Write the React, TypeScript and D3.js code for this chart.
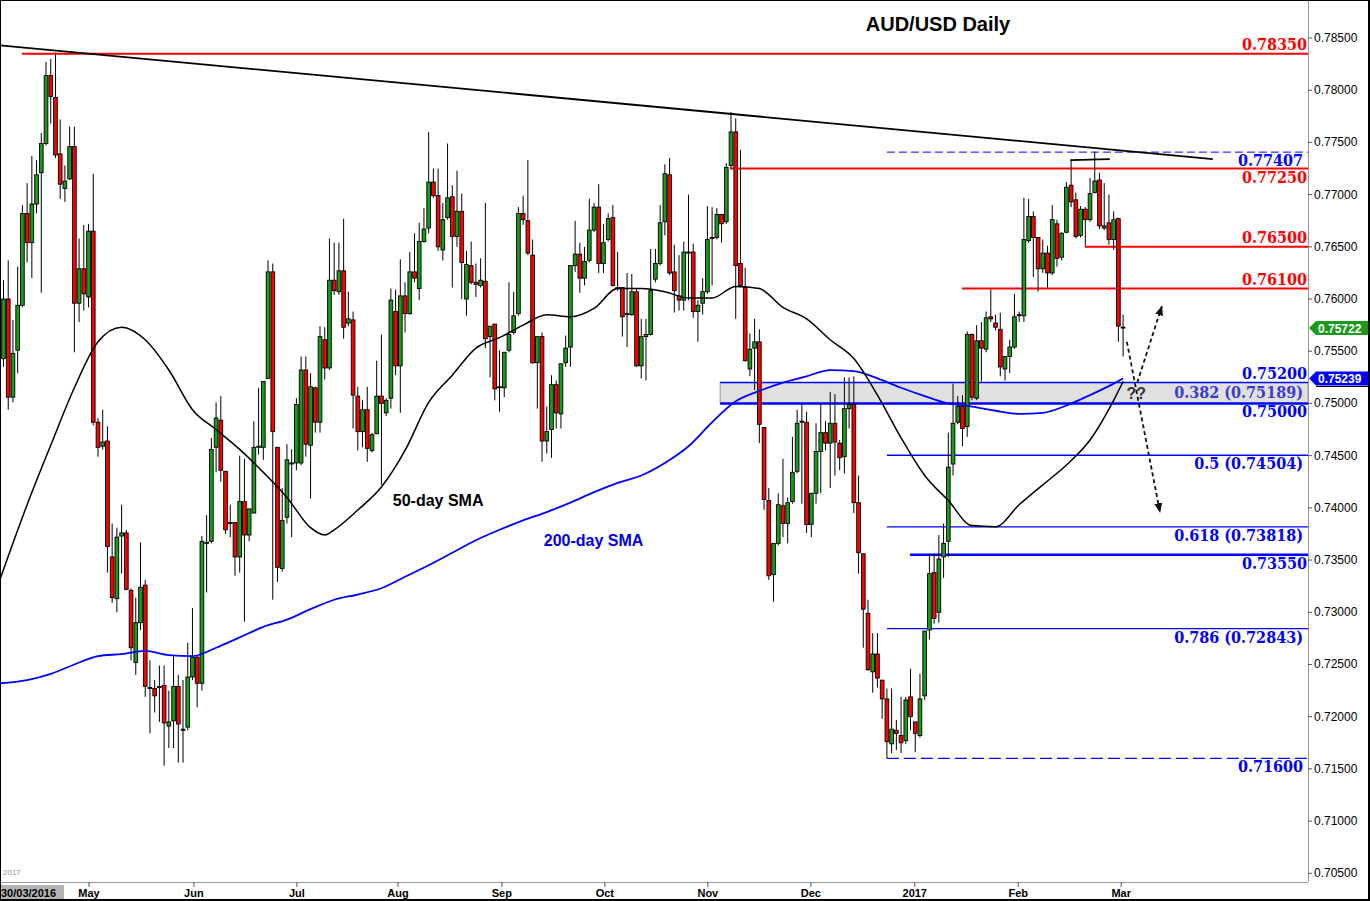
import React from "react";
import * as d3 from "d3";

// ---------- DATA (AUD/USD daily candles) ----------
const open = [
0.7543,0.7600,0.7506,0.7551,0.7594,0.7682,0.7654,0.7691,0.7721,0.7749,
0.7814,0.7793,0.7739,0.7706,0.7715,0.7746,0.7596,0.7629,0.7602,0.7665,
0.7482,0.7459,0.7464,0.7353,0.7313,0.7373,0.7376,0.7321,0.7252,0.7290,
0.7326,0.7228,0.7227,0.7228,0.7230,0.7191,0.7196,0.7229,0.7187,0.7190,
0.7238,0.7257,0.7232,0.7366,0.7368,0.7458,0.7484,0.7435,0.7386,0.7386,
0.7353,0.7406,0.7374,0.7395,0.7458,0.7458,0.7524,0.7626,0.7458,0.7342,
0.7391,0.7442,0.7443,0.7443,0.7532,0.7460,0.7515,0.7482,0.7561,0.7534,
0.7618,0.7607,0.7627,0.7577,0.7580,0.7507,0.7473,0.7494,0.7455,0.7471,
0.7507,0.7491,0.7505,0.7588,0.7536,0.7603,0.7586,0.7626,0.7610,0.7655,
0.7668,0.7712,0.7699,0.7647,0.7678,0.7698,0.7660,0.7684,0.7600,0.7632,
0.7616,0.7613,0.7617,0.7564,0.7576,0.7515,0.7515,0.7551,0.7568,0.7586,
0.7682,0.7675,0.7642,0.7539,0.7564,0.7464,0.7475,0.7518,0.7490,0.7539,
0.7554,0.7632,0.7643,0.7620,0.7637,0.7666,0.7688,0.7634,0.7657,0.7678,
0.7611,0.7611,0.7585,0.7585,0.7607,0.7536,0.7564,0.7566,0.7619,0.7634,
0.7674,0.7719,0.7626,0.7603,0.7599,0.7645,0.7645,0.7588,0.7596,0.7607,
0.7658,0.7659,0.7681,0.7674,0.7728,0.7760,0.7634,0.7611,0.7533,0.7553,
0.7559,0.7477,0.7407,0.7336,0.7366,0.7402,0.7385,0.7406,0.7435,0.7482,
0.7482,0.7384,0.7414,0.7454,0.7472,0.7462,0.7481,0.7462,0.7449,0.7495,
0.7499,0.7405,0.7356,0.7299,0.7243,0.7260,0.7235,0.7217,0.7174,0.7187,
0.7182,0.7177,0.7219,0.7195,0.7182,0.7220,0.7283,0.7338,0.7300,0.7353,
0.7368,0.7442,0.7482,0.7497,0.7478,0.7566,0.7505,0.7560,0.7552,0.7583,
0.7577,0.7571,0.7533,0.7545,0.7554,0.7584,0.7584,0.7656,0.7679,0.7659,
0.7629,0.7644,0.7625,0.7672,0.7640,0.7664,0.7709,0.7695,0.7661,0.7686,
0.7676,0.7702,0.7714,0.7668,0.7673,0.7657,0.7677,0.7573];

const high = [
0.7618,0.7637,0.7580,0.7631,0.7690,0.7711,0.7737,0.7733,0.7759,0.7827,
0.7830,0.7836,0.7772,0.7728,0.7765,0.7765,0.7658,0.7671,0.7672,0.7720,
0.7486,0.7494,0.7478,0.7385,0.7381,0.7403,0.7379,0.7323,0.7314,0.7367,
0.7331,0.7254,0.7235,0.7249,0.7249,0.7225,0.7258,0.7240,0.7235,0.7271,
0.7304,0.7259,0.7373,0.7393,0.7467,0.7501,0.7507,0.7435,0.7403,0.7386,
0.7450,0.7447,0.7399,0.7483,0.7515,0.7521,0.7637,0.7634,0.7458,0.7419,
0.7461,0.7456,0.7505,0.7545,0.7545,0.7529,0.7516,0.7574,0.7573,0.7658,
0.7654,0.7654,0.7677,0.7607,0.7588,0.7516,0.7503,0.7516,0.7472,0.7541,
0.7566,0.7505,0.7610,0.7609,0.7638,0.7616,0.7645,0.7663,0.7673,0.7687,
0.7760,0.7725,0.7725,0.7692,0.7749,0.7709,0.7723,0.7701,0.7646,0.7655,
0.7634,0.7639,0.7692,0.7574,0.7576,0.7551,0.7549,0.7616,0.7607,0.7688,
0.7699,0.7733,0.7657,0.7564,0.7568,0.7497,0.7527,0.7522,0.7538,0.7565,
0.7632,0.7675,0.7654,0.7650,0.7696,0.7692,0.7710,0.7672,0.7682,0.7690,
0.7645,0.7611,0.7625,0.7624,0.7610,0.7581,0.7581,0.7648,0.7648,0.7690,
0.7729,0.7735,0.7652,0.7642,0.7655,0.7700,0.7653,0.7599,0.7620,0.7689,
0.7688,0.7687,0.7681,0.7730,0.7779,0.7773,0.7743,0.7630,0.7567,0.7581,
0.7571,0.7477,0.7419,0.7366,0.7414,0.7447,0.7410,0.7468,0.7494,0.7499,
0.7492,0.7414,0.7481,0.7500,0.7483,0.7511,0.7509,0.7465,0.7525,0.7525,
0.7526,0.7431,0.7356,0.7312,0.7280,0.7280,0.7235,0.7227,0.7227,0.7197,
0.7219,0.7219,0.7246,0.7195,0.7241,0.7282,0.7356,0.7356,0.7374,0.7385,
0.7472,0.7519,0.7507,0.7508,0.7569,0.7567,0.7575,0.7578,0.7588,0.7609,
0.7585,0.7587,0.7545,0.7561,0.7605,0.7588,0.7697,0.7696,0.7684,0.7659,
0.7657,0.7651,0.7690,0.7676,0.7664,0.7712,0.7733,0.7702,0.7689,0.7688,
0.7716,0.7741,0.7721,0.7711,0.7700,0.7684,0.7678,0.7585];

const low = [
0.7535,0.7494,0.7501,0.7529,0.7592,0.7635,0.7620,0.7682,0.7606,0.7747,
0.7768,0.7735,0.7696,0.7693,0.7714,0.7549,0.7578,0.7589,0.7592,0.7479,
0.7449,0.7456,0.7338,0.7309,0.7300,0.7337,0.7321,0.7254,0.7240,0.7283,
0.7219,0.7184,0.7204,0.7195,0.7153,0.7170,0.7170,0.7156,0.7156,0.7187,
0.7235,0.7209,0.7225,0.7319,0.7366,0.7434,0.7425,0.7375,0.7372,0.7335,
0.7338,0.7291,0.7368,0.7395,0.7451,0.7446,0.7524,0.7312,0.7329,0.7339,
0.7385,0.7372,0.7436,0.7441,0.7449,0.7409,0.7472,0.7472,0.7523,0.7532,
0.7604,0.7604,0.7562,0.7574,0.7476,0.7455,0.7458,0.7444,0.7453,0.7471,
0.7422,0.7488,0.7495,0.7527,0.7491,0.7568,0.7585,0.7616,0.7599,0.7654,
0.7663,0.7697,0.7646,0.7637,0.7676,0.7611,0.7650,0.7600,0.7584,0.7614,
0.7602,0.7611,0.7553,0.7525,0.7503,0.7492,0.7506,0.7549,0.7566,0.7584,
0.7671,0.7642,0.7538,0.7495,0.7444,0.7452,0.7448,0.7476,0.7476,0.7535,
0.7535,0.7626,0.7606,0.7613,0.7635,0.7664,0.7625,0.7625,0.7655,0.7612,
0.7608,0.7564,0.7554,0.7584,0.7535,0.7524,0.7522,0.7565,0.7616,0.7632,
0.7661,0.7623,0.7587,0.7589,0.7589,0.7599,0.7582,0.7559,0.7585,0.7605,
0.7613,0.7657,0.7654,0.7672,0.7725,0.7581,0.7611,0.7540,0.7526,0.7513,
0.7462,0.7398,0.7331,0.7310,0.7364,0.7372,0.7366,0.7404,0.7433,0.7404,
0.7376,0.7372,0.7404,0.7414,0.7455,0.7419,0.7431,0.7436,0.7433,0.7476,
0.7395,0.7337,0.7266,0.7244,0.7223,0.7228,0.7198,0.7160,0.7165,0.7168,
0.7165,0.7174,0.7187,0.7166,0.7180,0.7216,0.7274,0.7289,0.7290,0.7333,
0.7353,0.7431,0.7480,0.7459,0.7468,0.7503,0.7503,0.7521,0.7549,0.7578,
0.7570,0.7526,0.7522,0.7529,0.7552,0.7578,0.7578,0.7654,0.7621,0.7607,
0.7625,0.7611,0.7623,0.7631,0.7637,0.7663,0.7688,0.7658,0.7659,0.7651,
0.7674,0.7701,0.7667,0.7666,0.7652,0.7647,0.7559,0.7545];

const close = [
0.7600,0.7506,0.7548,0.7594,0.7682,0.7654,0.7691,0.7719,0.7749,0.7814,
0.7794,0.7738,0.7710,0.7713,0.7746,0.7596,0.7629,0.7605,0.7665,0.7482,
0.7458,0.7463,0.7363,0.7314,0.7372,0.7376,0.7322,0.7266,0.7290,0.7324,
0.7229,0.7227,0.7220,0.7229,0.7194,0.7195,0.7229,0.7193,0.7188,0.7238,
0.7257,0.7232,0.7368,0.7367,0.7456,0.7486,0.7436,0.7379,0.7385,0.7353,
0.7406,0.7374,0.7399,0.7458,0.7459,0.7521,0.7626,0.7473,0.7343,0.7388,
0.7446,0.7443,0.7499,0.7532,0.7461,0.7516,0.7482,0.7564,0.7534,0.7618,
0.7608,0.7627,0.7573,0.7581,0.7508,0.7473,0.7494,0.7457,0.7470,0.7507,
0.7500,0.7503,0.7599,0.7536,0.7603,0.7586,0.7626,0.7620,0.7655,0.7667,
0.7712,0.7699,0.7650,0.7676,0.7697,0.7660,0.7684,0.7635,0.7633,0.7616,
0.7614,0.7618,0.7562,0.7574,0.7514,0.7516,0.7549,0.7566,0.7584,0.7682,
0.7676,0.7644,0.7539,0.7564,0.7464,0.7473,0.7518,0.7491,0.7538,0.7553,
0.7632,0.7643,0.7620,0.7636,0.7666,0.7688,0.7634,0.7654,0.7677,0.7613,
0.7610,0.7583,0.7586,0.7607,0.7536,0.7564,0.7566,0.7608,0.7634,0.7673,
0.7720,0.7625,0.7608,0.7599,0.7645,0.7644,0.7588,0.7594,0.7607,0.7657,
0.7659,0.7681,0.7672,0.7726,0.7760,0.7632,0.7613,0.7541,0.7552,0.7559,
0.7480,0.7408,0.7335,0.7366,0.7403,0.7385,0.7405,0.7434,0.7481,0.7483,
0.7384,0.7414,0.7454,0.7472,0.7462,0.7481,0.7463,0.7448,0.7495,0.7499,
0.7405,0.7357,0.7303,0.7245,0.7260,0.7237,0.7217,0.7176,0.7188,0.7184,
0.7175,0.7216,0.7200,0.7184,0.7217,0.7282,0.7337,0.7294,0.7351,0.7366,
0.7439,0.7481,0.7497,0.7476,0.7566,0.7506,0.7560,0.7553,0.7582,0.7581,
0.7573,0.7535,0.7545,0.7554,0.7583,0.7585,0.7657,0.7679,0.7659,0.7629,
0.7644,0.7625,0.7676,0.7639,0.7663,0.7707,0.7693,0.7660,0.7686,0.7676,
0.7701,0.7713,0.7670,0.7670,0.7657,0.7676,0.7574,0.75722];

// Moving averages (bar index -> value)
const sma50Idx = [-0.7,5,10,15,20,25,30,35,40,45,50,55,60,65,68,70,75,80,85,90,95,100,105,110,115,120,125,130,135,140,145,150,155,160,165,170,175,180,185,190,195,200,205,210,215,220,225,230,235,237];
const sma50Val = [0.7332,0.7403,0.7460,0.7515,0.7559,0.7573,0.7561,0.7532,0.7494,0.7475,0.7456,0.7434,0.7410,0.7381,0.7374,0.7379,0.7398,0.7420,0.7455,0.7501,0.7527,0.7553,0.7563,0.7575,0.7585,0.7583,0.7591,0.7610,0.7610,0.7607,0.7601,0.7601,0.7612,0.7610,0.7592,0.7581,0.7561,0.7543,0.7508,0.7467,0.7431,0.7407,0.7383,0.7382,0.7403,0.7422,0.7441,0.7465,0.7503,0.7521];
const sma200Idx = [-0.7,5,10,15,20,25,30,35,40,45,50,55,60,65,70,75,80,85,90,95,100,105,110,115,120,125,130,135,140,145,150,155,160,165,170,175,180,185,190,195,200,205,210,215,220,225,230,235,237];
const sma200Val = [0.7232,0.7235,0.7241,0.7250,0.7258,0.7260,0.7263,0.7259,0.7258,0.7266,0.7276,0.7286,0.7293,0.7303,0.7312,0.7317,0.7323,0.7334,0.7345,0.7357,0.7369,0.7379,0.7388,0.7396,0.7405,0.7415,0.7424,0.7431,0.7443,0.7459,0.7482,0.7502,0.7512,0.7520,0.7526,0.7532,0.7531,0.7524,0.7515,0.7507,0.7500,0.7497,0.7493,0.7490,0.7491,0.7498,0.7508,0.7519,0.75239];

// Axis ticks
const priceTicks = [0.785,0.78,0.775,0.77,0.765,0.76,0.755,0.75,0.745,0.74,0.735,0.73,0.725,0.72,0.715,0.71,0.705];
const monthLabels = ["May","Jun","Jul","Aug","Sep","Oct","Nov","Dec","2017","Feb","Mar"];
const monthTickIdx = [18.1,40.3,62.1,83.5,105.5,127.3,149.1,170.9,192.9,214.8,236.6];
const firstDateLabel = "30/03/2016";

// Horizontal levels (price, label, first bar index)
const levelPrice = [0.7835,0.77407,0.7725,0.765,0.761,0.752,0.75189,0.75,0.74504,0.73818,0.7355,0.72843,0.716];
const levelText = ["0.78350","0.77407","0.77250","0.76500","0.76100","0.75200","0.382 (0.75189)","0.75000","0.5 (0.74504)","0.618 (0.73818)","0.73550","0.786 (0.72843)","0.71600"];
const levelFrom = [3.9,187,153.8,228.9,202.9,151.7,151.7,151.7,187,187,191.9,187,187];

// Trendline and drawn annotations (bar index, price)
const trendIdx = [-0.74, 256];
const trendVal = [0.7843, 0.7734];
const topBracketIdx = [225.8, 234.2];
const topBracketVal = [0.7733, 0.7734];
const arrowStartIdx = [237.8, 240.0];
const arrowStartVal = [0.7559, 0.7520];
const arrowEndIdx = [244.8, 245.2];
const arrowEndVal = [0.7396, 0.7593];

export default function App() {
  const W = 1370, H = 901, PR = 1308, PB = 882;
  const x = d3.scaleLinear().domain([0, 237]).range([3.5, 1123.1]);
  const y = d3.scaleLinear().domain([0.705, 0.785]).range([873.3, 38]);
  const RED = "#ff0000", BLUE = "#0000ff", GREEN = "#1a9a1a";
  const bw = 3.7;

  const line50 = d3.line<number>().x((_, i) => x(sma50Idx[i])).y((d) => y(d)).curve(d3.curveMonotoneX);
  const line200 = d3.line<number>().x((_, i) => x(sma200Idx[i])).y((d) => y(d)).curve(d3.curveMonotoneX);

  // style per level (kept apart from the data)
  const lvlColor = [RED, BLUE, RED, RED, RED, BLUE, "#3b3bd6", BLUE, BLUE, BLUE, BLUE, BLUE, BLUE];
  const lvlWidth = [2, 1, 2, 2, 2, 1.5, 0, 2.5, 1.3, 1.3, 2.5, 1.3, 1.2];
  const lvlDash = ["", "8,4", "", "", "", "", "", "", "", "", "", "", "12,5"];
  const lvlAbove = [true, false, false, true, true, true, false, false, false, false, false, false, false];
  const lvlRight = [1307, 1303, 1307, 1307, 1307, 1307, 1303, 1307, 1303, 1303, 1307, 1303, 1303];

  const serif = "'DejaVu Serif Condensed', 'DejaVu Serif', serif";
  const last = close.length - 1;
  const lastSma = sma200Val[sma200Val.length - 1];

  return (
    <svg width={W} height={H} style={{ position: "absolute", left: 0, top: 0, background: "#fff" }} fontFamily="'Liberation Sans', Arial, sans-serif">
      <defs>
        <clipPath id="plotclip"><rect x={0} y={0} width={PR} height={PB} /></clipPath>
        <marker id="ahead" viewBox="0 0 10 10" refX="9" refY="5" markerWidth="10" markerHeight="10" markerUnits="userSpaceOnUse" orient="auto">
          <path d="M0,1 L10,5 L0,9 Z" fill="#111" />
        </marker>
      </defs>
      <rect x={0} y={0} width={W} height={H} fill="#fff" />

      <g clipPath="url(#plotclip)">
        {/* support band */}
        <rect x={x(levelFrom[7])} y={y(0.752)} width={PR - x(levelFrom[7])} height={y(0.75) - y(0.752)} fill="#e0e0e0" stroke="#9a9a9a" strokeWidth={1} />

        {/* level lines */}
        {levelPrice.map((p, i) =>
          lvlWidth[i] > 0 ? (
            <line key={"lv" + i} x1={x(levelFrom[i])} x2={PR} y1={y(p)} y2={y(p)} stroke={lvlColor[i]} strokeWidth={lvlWidth[i]} strokeDasharray={lvlDash[i] || undefined} />
          ) : null
        )}

        {/* candles */}
        {open.map((o, i) => {
          const c = close[i];
          const cx = x(i);
          const up = c >= o;
          const top = y(Math.max(o, c));
          const bot = y(Math.min(o, c));
          const h = Math.max(0.8, bot - top);
          return (
            <g key={"c" + i}>
              <line x1={cx} x2={cx} y1={y(high[i])} y2={y(low[i])} stroke="#000" strokeWidth={1} />
              <rect x={cx - bw / 2} y={top} width={bw} height={h} fill={up ? GREEN : RED} stroke="#000" strokeWidth={0.9} />
            </g>
          );
        })}

        {/* moving averages */}
        <path d={line200(sma200Val) || ""} fill="none" stroke={BLUE} strokeWidth={1.8} />
        <path d={line50(sma50Val) || ""} fill="none" stroke="#000" strokeWidth={1.5} />

        {/* trend line */}
        <line x1={x(trendIdx[0])} y1={y(trendVal[0])} x2={x(trendIdx[1])} y2={y(trendVal[1])} stroke="#000" strokeWidth={1.8} />
        {/* double-top bracket */}
        <line x1={x(topBracketIdx[0])} y1={y(topBracketVal[0])} x2={x(topBracketIdx[1])} y2={y(topBracketVal[1])} stroke="#000" strokeWidth={1.6} />

        {/* scenario arrows */}
        {arrowStartIdx.map((s, i) => (
          <line key={"ar" + i} x1={x(s)} y1={y(arrowStartVal[i])} x2={x(arrowEndIdx[i])} y2={y(arrowEndVal[i])} stroke="#111" strokeWidth={1.8} strokeDasharray="4,3" markerEnd="url(#ahead)" />
        ))}
      </g>

      {/* level labels */}
      {levelPrice.map((p, i) => (
        <text key={"lt" + i} x={lvlRight[i]} y={lvlAbove[i] ? y(p) - 3.5 : y(p) + 14} textAnchor="end" fill={lvlColor[i]} fontFamily={serif} fontWeight="bold" fontSize={16}>
          {levelText[i]}
        </text>
      ))}

      <text x={x(239.8)} y={y(0.751) + 6} textAnchor="middle" fill="#333" fontWeight="bold" fontSize={16}>??</text>

      {/* SMA labels and title */}
      <text x={x(92)} y={y(0.7408) + 6} textAnchor="middle" fontWeight="bold" fontSize={16} fill="#000">50-day SMA</text>
      <text x={x(124.9)} y={y(0.7369) + 6} textAnchor="middle" fontWeight="bold" fontSize={16} fill="#0000e6">200-day SMA</text>
      <text x={938} y={31} textAnchor="middle" fontWeight="bold" fontSize={20} fill="#000">AUD/USD Daily</text>

      {/* right price axis */}
      <line x1={PR + 0.5} x2={PR + 0.5} y1={0} y2={PB} stroke="#999" strokeWidth={1} />
      {priceTicks.map((p) => (
        <g key={"pt" + p}>
          <line x1={PR} x2={PR + 4} y1={y(p)} y2={y(p)} stroke="#555" strokeWidth={1} />
          <text x={PR + 6} y={y(p) + 4} fontSize={12} fill="#000">{p.toFixed(5)}</text>
        </g>
      ))}
      {/* last price / SMA tags */}
      <path d={`M${PR + 1},${y(close[last])} L${PR + 8},${y(close[last]) - 7} H${W} V${y(close[last]) + 7} H${PR + 8} Z`} fill={GREEN} />
      <text x={PR + 10} y={y(close[last]) + 4.5} fontSize={12} fontWeight="bold" fill="#fff">{close[last].toFixed(5)}</text>
      <path d={`M${PR + 1},${y(lastSma)} L${PR + 8},${y(lastSma) - 7} H${W} V${y(lastSma) + 7} H${PR + 8} Z`} fill={BLUE} />
      <line x1={PR + 8} x2={W} y1={y(lastSma) + 8} y2={y(lastSma) + 8} stroke="#000" strokeWidth={1.2} />
      <text x={PR + 10} y={y(lastSma) + 4.5} fontSize={12} fontWeight="bold" fill="#fff">{lastSma.toFixed(5)}</text>

      {/* bottom time axis */}
      <line x1={0} x2={PR} y1={PB + 0.5} y2={PB + 0.5} stroke="#999" strokeWidth={1} />
      {monthTickIdx.map((t, i) => (
        <g key={"mt" + i}>
          <line x1={x(t)} x2={x(t)} y1={PB} y2={PB + 5} stroke="#555" strokeWidth={1} />
          <text x={x(t)} y={897} textAnchor="middle" fontSize={11} fontWeight="bold" fill="#000">{monthLabels[i]}</text>
        </g>
      ))}
      <rect x={0} y={885} width={64} height={15} fill="#b4b4b4" />
      <text x={1} y={897} fontSize={11} fontWeight="bold" fill="#000">{firstDateLabel}</text>
      <text x={3} y={875} fontSize={8} fill="#999">2017</text>

      {/* frame */}
      <rect x={0.5} y={0.5} width={W - 1} height={H - 1} fill="none" stroke="#000" strokeWidth={1} />
      <line x1={0} x2={W} y1={H - 1} y2={H - 1} stroke="#000" strokeWidth={2} />
      <line x1={W - 1} x2={W - 1} y1={0} y2={H} stroke="#000" strokeWidth={2} />
    </svg>
  );
}
